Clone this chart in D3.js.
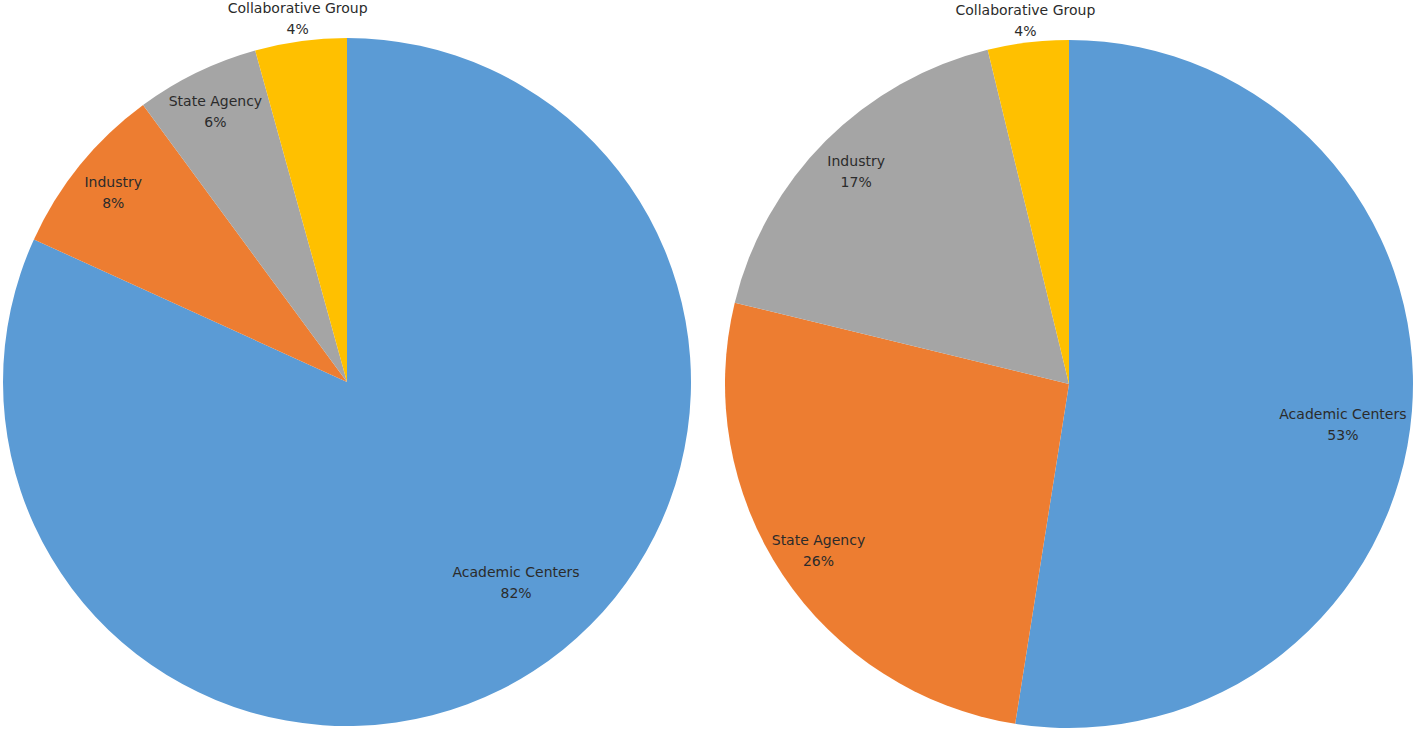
<!DOCTYPE html>
<html>
<head>
<meta charset="utf-8">
<script src="https://cdn.jsdelivr.net/npm/d3@7"></script>
<style>
  html, body { margin: 0; padding: 0; background: #ffffff; }
  svg { display: block; }
</style>
</head>
<body>
<svg id="chart" width="1418" height="734"></svg>
<script>
// ---- Data (percent shares) ----
const leftCategories  = ["Academic Centers", "Industry", "State Agency", "Collaborative Group"];
const leftValues      = [81.8, 8.1, 5.8, 4.3];

const rightCategories = ["Academic Centers", "State Agency", "Industry", "Collaborative Group"];
const rightValues     = [52.5, 26.3, 17.4, 3.8];

// slice colours in drawing order (clockwise from 12 o'clock)
const sliceColors = ["#5B9BD5", "#ED7D31", "#A5A5A5", "#FFC000"];

const svg = d3.select("#chart");
const R = 344;

// layout: "best fit" placement of the largest slice's label (angle shift in degrees, radius factor)
function drawPie(categories, values, cx, cy, bigLabel) {
  const data = categories.map((c, i) => ({ name: c, value: values[i], i }));
  const total = d3.sum(values);
  const pie = d3.pie().value(d => d.value).sort(null).startAngle(0).endAngle(2 * Math.PI);
  const arcs = pie(data);
  const arc = d3.arc().innerRadius(0).outerRadius(R);
  const color = d3.scaleOrdinal().domain(d3.range(sliceColors.length)).range(sliceColors);

  const g = svg.append("g").attr("transform", `translate(${cx},${cy})`);
  g.selectAll("path.slice")
    .data(arcs)
    .join("path")
    .attr("class", "slice")
    .attr("d", arc)
    .attr("fill", d => color(d.data.i));

  const labelPos = d => {
    const share = d.data.value / total;
    let r = R * 0.875, a = (d.startAngle + d.endAngle) / 2;
    if (share < 0.05) r = R * 1.065;
    else if (share > 0.5) { r = R * bigLabel.radius; a += bigLabel.shift * Math.PI / 180; }
    return [r * Math.sin(a), -r * Math.cos(a)];
  };
  const labels = g.selectAll("g.label")
    .data(arcs)
    .join("g")
    .attr("class", "label")
    .attr("transform", d => `translate(${labelPos(d)})`);
  labels.append("text")
    .attr("y", -10.5)
    .text(d => d.data.name);
  labels.append("text")
    .attr("y", 10.5)
    .text(d => Math.round(d.data.value / total * 100) + "%");
  labels.selectAll("text")
    .attr("text-anchor", "middle")
    .attr("dominant-baseline", "central")
    .attr("font-family", "'DejaVu Sans', sans-serif")
    .attr("font-size", "14px")
    .attr("fill", "#2b2b2b");
}

drawPie(leftCategories, leftValues, 347, 382, { shift: -7.4, radius: 0.762 });
drawPie(rightCategories, rightValues, 1069, 384, { shift: 4, radius: 0.805 });
</script>
</body>
</html>
